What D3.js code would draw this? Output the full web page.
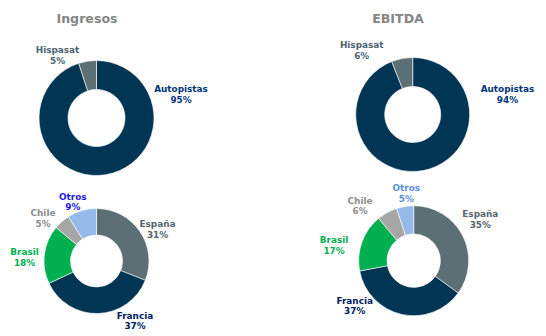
<!DOCTYPE html>
<html><head><meta charset="utf-8">
<script src="https://cdn.jsdelivr.net/npm/d3@7"></script>
<style>
html,body{margin:0;padding:0;background:#fff;}
svg{display:block;}
</style></head>
<body>
<svg id="c" width="546" height="336"></svg>
<script>
// ---- data ----
const titles = ["Ingresos", "EBITDA"];
const segCategories = ["Autopistas", "Hispasat"];
const segIngresos = [95, 5];
const segEbitda = [94, 6];
const geoCategories = ["España", "Francia", "Brasil", "Chile", "Otros"];
const geoIngresos = [31, 37, 18, 5, 9];
const geoEbitda = [35, 37, 17, 6, 5];

// ---- styles / layout ----
const sliceColors = {
  "Autopistas": "#003654", "Hispasat": "#5c6f75",
  "España": "#5c6f75", "Francia": "#003654", "Brasil": "#00b050",
  "Chile": "#a6a6a6", "Otros": "#95b9e9"
};
const labelColors = {
  "Autopistas": "#00357a", "Hispasat": "#4d6470",
  "España": "#56666d", "Francia": "#00205f", "Brasil": "#00b050",
  "Chile": "#8c8c8c", "Otros": ["#1a1ae6", "#5b8fde"]
};
const charts = [
  {cx: 96.5, cy: 118, ro: 57.5, ri: 28.5, cats: segCategories, vals: segIngresos, col: 0,
   labels: [[84.5, -26], [-39, -65]]},
  {cx: 412.7, cy: 114.5, ro: 57, ri: 28, cats: segCategories, vals: segEbitda, col: 1,
   labels: [[94.8, -22.5], [-51, -66.5]]},
  {cx: 96.5, cy: 261, ro: 52.5, ri: 26, cats: geoCategories, vals: geoIngresos, col: 0,
   labels: [[61, -34], [38.5, 57.7], [-72, -6], [-53.5, -45], [-23.7, -61.3]]},
  {cx: 413.7, cy: 260.7, ro: 55, ri: 26.7, cats: geoCategories, vals: geoEbitda, col: 1,
   labels: [[66.6, -43.4], [-59, 43], [-79.7, -17.7], [-53.7, -57], [-7.4, -69.4]]}
];
const titlePos = [[87, 23], [398, 23]];

const svg = d3.select("#c");
const font = "'DejaVu Sans', Verdana, sans-serif";

titles.forEach((t, i) => {
  svg.append("text").attr("x", titlePos[i][0]).attr("y", titlePos[i][1])
    .attr("text-anchor", "middle").attr("font-family", font)
    .attr("font-weight", "bold").attr("font-size", "12.6px")
    .attr("fill", "#858585").text(t);
});

const pie = d3.pie().sort(null).value(d => d.v);

charts.forEach(ch => {
  const data = ch.cats.map((c, i) => ({c, v: ch.vals[i]}));
  const arcs = pie(data);
  const arc = d3.arc().innerRadius(ch.ri).outerRadius(ch.ro);
  const g = svg.append("g").attr("transform", `translate(${ch.cx},${ch.cy})`);
  g.selectAll("path").data(arcs).join("path")
    .attr("d", arc)
    .attr("fill", d => sliceColors[d.data.c])
    .attr("stroke", "#fff").attr("stroke-width", 0.6);
  arcs.forEach((a, i) => {
    const [lx, ly] = ch.labels[i];
    let color = labelColors[a.data.c];
    if (Array.isArray(color)) color = color[ch.col];
    const t = g.append("text").attr("text-anchor", "middle")
      .attr("font-family", font).attr("font-weight", "bold")
      .attr("font-size", "8.9px").attr("fill", color);
    t.append("tspan").attr("x", lx).attr("y", ly).text(a.data.c);
    t.append("tspan").attr("x", lx).attr("y", ly + 10.5).text(a.data.v + "%");
  });
});
</script>
</body></html>
